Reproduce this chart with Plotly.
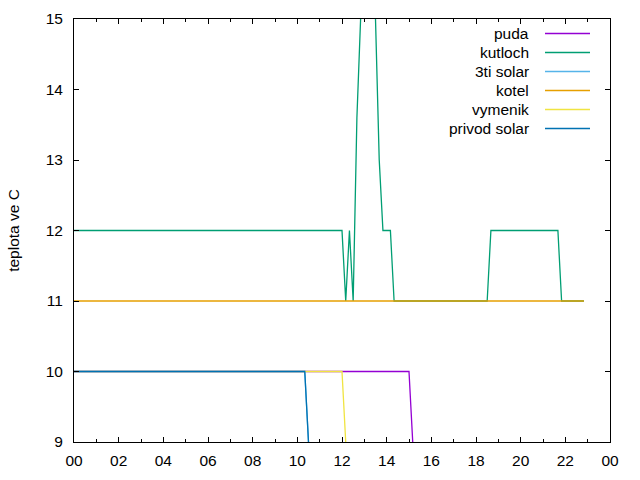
import plotly.graph_objects as go

# ---- data (hours of day, temperature in C) ----
names = ["puda", "kutloch", "3ti solar", "kotel", "vymenik", "privod solar"]
colors = ["#9400D3", "#009E73", "#56B4E9", "#E69F00", "#F0E442", "#0072B2"]

puda_t = [0.0, 15.0, 15.167]
puda_v = [10, 10, 9]

kutloch_t = [0.0, 12.0, 12.167, 12.333, 12.5, 12.667, 12.833, 13.0, 13.167, 13.333,
             13.5, 13.667, 13.833, 14.167, 14.333, 18.5, 18.667, 21.667, 21.833, 22.833]
kutloch_v = [12, 12, 11, 12, 11, 13.6, 15.0, 16.0, 16.5, 16.0,
             15.0, 13.0, 12, 12, 11, 11, 12, 12, 11, 11]

solar3_t = [0.0, 10.333, 10.5]
solar3_v = [10, 10, 9]

kotel_t = [0.0, 22.833]
kotel_v = [11, 11]

vymenik_t = [0.0, 12.0, 12.167]
vymenik_v = [10, 10, 9]

privod_t = [0.0, 10.333, 10.5]
privod_v = [10, 10, 9]

xtick_vals = [0, 2, 4, 6, 8, 10, 12, 14, 16, 18, 20, 22, 24]
xtick_text = ["00", "02", "04", "06", "08", "10", "12", "14", "16", "18", "20", "22", "00"]
ytick_vals = [9, 10, 11, 12, 13, 14, 15]

series = [(puda_t, puda_v), (kutloch_t, kutloch_v), (solar3_t, solar3_v),
          (kotel_t, kotel_v), (vymenik_t, vymenik_v), (privod_t, privod_v)]

FONT = "Liberation Sans"
FS = 15.5

fig = go.Figure()
for (t, v), n, c in zip(series, names, colors):
    fig.add_trace(go.Scatter(x=t, y=v, mode="lines", name=n,
                             line=dict(color=c, width=1.3), showlegend=False))

# gnuplot-style key: right-aligned text with sample line on the right
ML, MR, MT, MB = 74, 30, 19, 38
W, H = 640, 480
pw, ph = W - ML - MR, H - MT - MB
row0 = 33.5
step = 19
for i, (n, c) in enumerate(zip(names, colors)):
    ypx = row0 + i * step
    yp = 1 - (ypx - MT) / ph
    fig.add_annotation(xref="paper", yref="paper", x=(531 - ML) / pw, y=yp,
                       text=n, showarrow=False, xanchor="right", yanchor="middle",
                       font=dict(family=FONT, size=FS, color="black"))
    fig.add_shape(type="line", xref="paper", yref="paper",
                  x0=(545 - ML) / pw, x1=(590 - ML) / pw, y0=yp, y1=yp,
                  line=dict(color=c, width=1.3))

fig.update_layout(
    width=W, height=H,
    margin=dict(l=ML, r=MR, t=MT, b=MB, pad=0, autoexpand=False),
    plot_bgcolor="white", paper_bgcolor="white",
    font=dict(family=FONT, size=FS, color="black"),
    showlegend=False,
)
fig.update_xaxes(range=[0, 24], tickmode="array", tickvals=xtick_vals, ticktext=xtick_text,
                 showgrid=False, zeroline=False, showline=True, linecolor="black", linewidth=1,
                 mirror="ticks", ticks="inside", ticklen=5, tickcolor="black",
                 minor=dict(tickmode="linear", tick0=0, dtick=1, ticks="inside", ticklen=3,
                            tickcolor="black", showgrid=False),
                 ticklabelstandoff=4, automargin=False)
fig.update_yaxes(range=[9, 15], tickmode="array", tickvals=ytick_vals,
                 showgrid=False, zeroline=False, showline=True, linecolor="black", linewidth=1,
                 mirror="ticks", ticks="inside", ticklen=5, tickcolor="black",
                 title=dict(text="teplota ve C", standoff=22, font=dict(family=FONT, size=FS)),
                 ticklabelstandoff=7, automargin=False)

fig.write_html("out.html")
